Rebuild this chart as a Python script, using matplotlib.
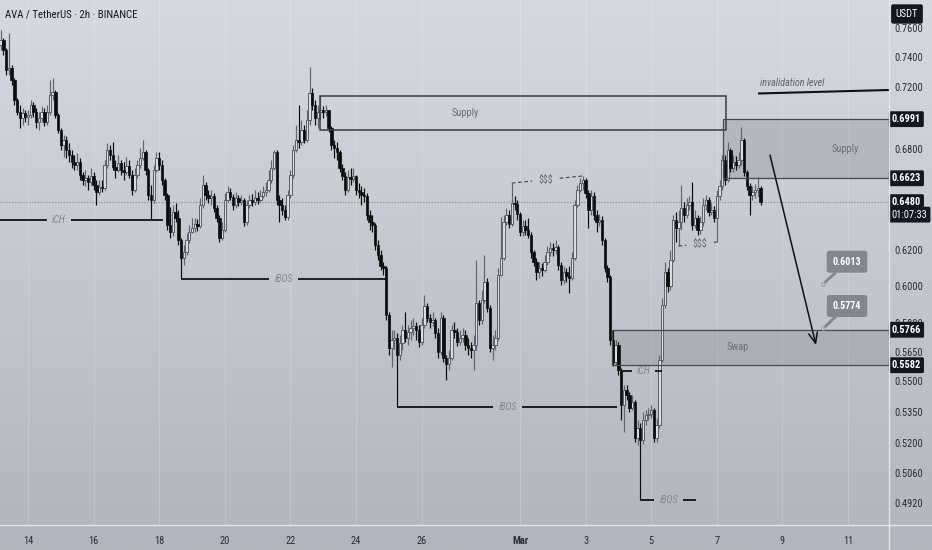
import numpy as np
import matplotlib
matplotlib.use("Agg")
import matplotlib.pyplot as plt
from matplotlib import font_manager
from matplotlib.lines import Line2D
from matplotlib.patches import Rectangle
from matplotlib.ticker import NullLocator, NullFormatter
from matplotlib.colors import LinearSegmentedColormap

# pick a narrow face if one is installed, TradingView text is fairly condensed
installed = {f.name for f in font_manager.fontManager.ttflist}
narrow = [n for n in ('Liberation Sans Narrow', 'Roboto Condensed', 'Open Sans Condensed',
                      'DejaVu Sans Condensed') if n in installed]
condensed_dejavu = any(f.name == 'DejaVu Sans' and str(f.stretch) in ('condensed', 'semi-condensed')
                       for f in font_manager.fontManager.ttflist)
if narrow:
    plt.rcParams['font.family'] = [narrow[0], 'DejaVu Sans']
    fs = 7.5
elif condensed_dejavu:
    plt.rcParams['font.family'] = ['DejaVu Sans']
    plt.rcParams['font.stretch'] = 'condensed'
    fs = 7.0
else:
    plt.rcParams['font.family'] = ['Liberation Sans', 'DejaVu Sans']
    fs = 7.0

# AVA / USDT, 2h candles, first bar Feb 13 04:00 (x axis = days from Feb 14 00:00)
first_bar_day = -20 / 24
bar_hours = 2
first_open = 0.7482

closes = [
    0.7516, 0.7448, 0.7313, 0.7326, 0.7246, 0.7115, 0.7037, 0.6999, 0.7031, 0.7005,
    0.7018, 0.7083, 0.7037, 0.6973, 0.6999, 0.7037, 0.6973, 0.7037, 0.7147, 0.7167,
    0.7018, 0.6922, 0.6828, 0.6859, 0.6796, 0.6765, 0.6723, 0.6704, 0.6723, 0.6643,
    0.6612, 0.6624, 0.6600, 0.6637, 0.6582, 0.6540, 0.6570, 0.6564, 0.6704, 0.6796,
    0.6765, 0.6692, 0.6673, 0.6717, 0.6673, 0.6661, 0.6698, 0.6643, 0.6552, 0.6643,
    0.6704, 0.6746, 0.6784, 0.6673, 0.6522, 0.6493, 0.6673, 0.6746, 0.6704, 0.6612,
    0.6522, 0.6346, 0.6305, 0.6421, 0.6386, 0.6259, 0.6157, 0.6191, 0.6259, 0.6305,
    0.6329, 0.6352, 0.6340, 0.6463, 0.6582, 0.6522, 0.6504, 0.6516, 0.6446, 0.6386,
    0.6271, 0.6317, 0.6493, 0.6540, 0.6510, 0.6463, 0.6504, 0.6481, 0.6493, 0.6363,
    0.6463, 0.6493, 0.6481, 0.6504, 0.6493, 0.6516, 0.6540, 0.6552, 0.6612, 0.6686,
    0.6784, 0.6493, 0.6463, 0.6433, 0.6392, 0.6522, 0.6643, 0.6796, 0.6859, 0.6846,
    0.6922, 0.6859, 0.6986, 0.7160, 0.7083, 0.6999, 0.7037, 0.7050, 0.7037, 0.7050,
    0.6935, 0.6828, 0.6809, 0.6784, 0.6686, 0.6637, 0.6552, 0.6630, 0.6618, 0.6637,
    0.6552, 0.6540, 0.6522, 0.6516, 0.6404, 0.6363, 0.6346, 0.6230, 0.6174, 0.6112,
    0.6101, 0.5844, 0.5670, 0.5712, 0.5723, 0.5634, 0.5696, 0.5765, 0.5723, 0.5754,
    0.5776, 0.5786, 0.5765, 0.5702, 0.5791, 0.5893, 0.5828, 0.5807, 0.5818, 0.5749,
    0.5650, 0.5828, 0.5619, 0.5588, 0.5619, 0.5765, 0.5754, 0.5702, 0.5723, 0.5739,
    0.5686, 0.5670, 0.5660, 0.5686, 0.5909, 0.5818, 0.5925, 0.6023, 0.5882, 0.5670,
    0.5686, 0.5723, 0.6062, 0.6157, 0.6363, 0.6404, 0.6352, 0.6475, 0.6469, 0.6410,
    0.6305, 0.6340, 0.6317, 0.6288, 0.6191, 0.6135, 0.6079, 0.6101, 0.6090, 0.6135,
    0.6191, 0.6213, 0.6202, 0.6219, 0.6118, 0.6034, 0.6079, 0.6057, 0.6046, 0.6157,
    0.6463, 0.6552, 0.6594, 0.6612, 0.6534, 0.6433, 0.6516, 0.6404, 0.6363, 0.6375,
    0.6259, 0.6101, 0.6051, 0.5712, 0.5599, 0.5686, 0.5557, 0.5382, 0.5457, 0.5432,
    0.5368, 0.5397, 0.5223, 0.5271, 0.5213, 0.5309, 0.5334, 0.5338, 0.5358, 0.5223,
    0.5285, 0.5609, 0.5898, 0.6079, 0.6001, 0.6146, 0.6375, 0.6329, 0.6363, 0.6446,
    0.6404, 0.6463, 0.6481, 0.6346, 0.6386, 0.6317, 0.6363, 0.6463, 0.6493, 0.6421,
    0.6433, 0.6386, 0.6516, 0.6576, 0.6735, 0.6612, 0.6796, 0.6686, 0.6723, 0.6704,
    0.6735, 0.6859, 0.6661, 0.6576, 0.6522, 0.6540, 0.6552, 0.6564, 0.6480,
]
highs = [
    0.7585, 0.7530, 0.7461, 0.7564, 0.7346, 0.7260, 0.7128, 0.7083, 0.7063, 0.7050,
    0.7050, 0.7115, 0.7102, 0.7063, 0.7037, 0.7076, 0.7063, 0.7083, 0.7246, 0.7260,
    0.7180, 0.7031, 0.6935, 0.6890, 0.6884, 0.6840, 0.6796, 0.6765, 0.6777, 0.6746,
    0.6661, 0.6673, 0.6643, 0.6686, 0.6661, 0.6612, 0.6612, 0.6612, 0.6735, 0.6840,
    0.6828, 0.6846, 0.6735, 0.6765, 0.6735, 0.6723, 0.6753, 0.6735, 0.6673, 0.6686,
    0.6735, 0.6809, 0.6859, 0.6796, 0.6686, 0.6582, 0.6704, 0.6784, 0.6784, 0.6735,
    0.6624, 0.6534, 0.6452, 0.6463, 0.6475, 0.6433, 0.6271, 0.6230, 0.6300, 0.6346,
    0.6386, 0.6386, 0.6381, 0.6504, 0.6643, 0.6600, 0.6552, 0.6552, 0.6534, 0.6463,
    0.6404, 0.6363, 0.6534, 0.6576, 0.6564, 0.6528, 0.6540, 0.6522, 0.6522, 0.6504,
    0.6493, 0.6522, 0.6528, 0.6552, 0.6540, 0.6552, 0.6576, 0.6600, 0.6673, 0.6735,
    0.6796, 0.6796, 0.6522, 0.6504, 0.6463, 0.6552, 0.6673, 0.6828, 0.6954, 0.7083,
    0.6986, 0.6954, 0.7050, 0.7333, 0.7193, 0.7115, 0.7083, 0.7147, 0.7076, 0.7083,
    0.7050, 0.6948, 0.6859, 0.6846, 0.6796, 0.6710, 0.6661, 0.6673, 0.6686, 0.6686,
    0.6643, 0.6594, 0.6576, 0.6564, 0.6534, 0.6433, 0.6404, 0.6358, 0.6259, 0.6202,
    0.6135, 0.6112, 0.5860, 0.5765, 0.5765, 0.5749, 0.5739, 0.5791, 0.5860, 0.5791,
    0.5818, 0.5828, 0.5807, 0.5791, 0.5828, 0.5952, 0.5909, 0.5850, 0.5860, 0.5828,
    0.5776, 0.5860, 0.5844, 0.5634, 0.5660, 0.5791, 0.5807, 0.5776, 0.5765, 0.5776,
    0.5765, 0.5723, 0.5702, 0.5739, 0.6146, 0.5925, 0.5979, 0.6174, 0.6045, 0.5898,
    0.5739, 0.5765, 0.6101, 0.6392, 0.6404, 0.6446, 0.6433, 0.6594, 0.6516, 0.6493,
    0.6421, 0.6375, 0.6375, 0.6386, 0.6305, 0.6202, 0.6157, 0.6135, 0.6129, 0.6174,
    0.6225, 0.6248, 0.6242, 0.6259, 0.6230, 0.6135, 0.6112, 0.6101, 0.6112, 0.6191,
    0.6493, 0.6582, 0.6624, 0.6637, 0.6624, 0.6552, 0.6552, 0.6540, 0.6433, 0.6410,
    0.6398, 0.6271, 0.6118, 0.6062, 0.5765, 0.5712, 0.5702, 0.5568, 0.5482, 0.5482,
    0.5447, 0.5432, 0.5407, 0.5309, 0.5295, 0.5348, 0.5358, 0.5368, 0.5382, 0.5368,
    0.5319, 0.5634, 0.5936, 0.6135, 0.6101, 0.6202, 0.6404, 0.6421, 0.6433, 0.6582,
    0.6481, 0.6504, 0.6516, 0.6600, 0.6433, 0.6404, 0.6398, 0.6504, 0.6522, 0.6510,
    0.6475, 0.6458, 0.6552, 0.6612, 0.6765, 0.6765, 0.6846, 0.6809, 0.6765, 0.6759,
    0.6784, 0.6941, 0.6871, 0.6673, 0.6594, 0.6576, 0.6588, 0.6630, 0.6576,
]
lows = [
    0.7448, 0.7414, 0.7280, 0.7280, 0.7213, 0.7083, 0.7018, 0.6935, 0.6954, 0.6973,
    0.6954, 0.6999, 0.7005, 0.6935, 0.6922, 0.6973, 0.6948, 0.6954, 0.7018, 0.7115,
    0.6999, 0.6903, 0.6796, 0.6753, 0.6746, 0.6723, 0.6686, 0.6673, 0.6673, 0.6612,
    0.6582, 0.6576, 0.6552, 0.6582, 0.6552, 0.6463, 0.6522, 0.6540, 0.6552, 0.6686,
    0.6735, 0.6673, 0.6624, 0.6661, 0.6643, 0.6612, 0.6643, 0.6624, 0.6522, 0.6540,
    0.6624, 0.6686, 0.6735, 0.6643, 0.6493, 0.6375, 0.6475, 0.6661, 0.6673, 0.6582,
    0.6493, 0.6317, 0.6271, 0.6282, 0.6363, 0.6230, 0.6046, 0.6118, 0.6174, 0.6242,
    0.6300, 0.6305, 0.6311, 0.6329, 0.6446, 0.6493, 0.6475, 0.6463, 0.6421, 0.6363,
    0.6248, 0.6259, 0.6305, 0.6481, 0.6493, 0.6433, 0.6446, 0.6458, 0.6463, 0.6340,
    0.6346, 0.6446, 0.6458, 0.6463, 0.6469, 0.6481, 0.6504, 0.6516, 0.6540, 0.6594,
    0.6673, 0.6463, 0.6363, 0.6404, 0.6375, 0.6375, 0.6504, 0.6624, 0.6784, 0.6809,
    0.6828, 0.6840, 0.6846, 0.6954, 0.7050, 0.6954, 0.6935, 0.6986, 0.6999, 0.7011,
    0.6909, 0.6796, 0.6746, 0.6735, 0.6661, 0.6612, 0.6522, 0.6540, 0.6582, 0.6600,
    0.6522, 0.6504, 0.6463, 0.6481, 0.6375, 0.6317, 0.6305, 0.6202, 0.6146, 0.6090,
    0.6062, 0.5818, 0.5634, 0.5573, 0.5660, 0.5373, 0.5609, 0.5660, 0.5702, 0.5686,
    0.5712, 0.5739, 0.5712, 0.5676, 0.5686, 0.5776, 0.5807, 0.5776, 0.5786, 0.5723,
    0.5619, 0.5634, 0.5599, 0.5507, 0.5557, 0.5609, 0.5723, 0.5681, 0.5686, 0.5702,
    0.5660, 0.5634, 0.5619, 0.5557, 0.5660, 0.5791, 0.5797, 0.5909, 0.5860, 0.5650,
    0.5609, 0.5660, 0.5712, 0.6057, 0.6146, 0.6346, 0.6329, 0.6340, 0.6433, 0.6375,
    0.6282, 0.6282, 0.6288, 0.6271, 0.6157, 0.6112, 0.6034, 0.6046, 0.6057, 0.6079,
    0.6118, 0.6168, 0.6168, 0.6179, 0.6090, 0.6007, 0.6012, 0.6023, 0.5963, 0.6034,
    0.6146, 0.6452, 0.6540, 0.6552, 0.6504, 0.6329, 0.6404, 0.6375, 0.6305, 0.6340,
    0.6230, 0.6079, 0.6023, 0.5686, 0.5578, 0.5583, 0.5532, 0.5309, 0.5251, 0.5407,
    0.5348, 0.5358, 0.5203, 0.5189, 0.4934, 0.5194, 0.5285, 0.5309, 0.5319, 0.5203,
    0.5203, 0.5271, 0.5599, 0.5882, 0.5968, 0.5979, 0.6135, 0.6248, 0.6225, 0.6317,
    0.6363, 0.6386, 0.6433, 0.6317, 0.6329, 0.6288, 0.6294, 0.6340, 0.6433, 0.6398,
    0.6404, 0.6363, 0.6248, 0.6493, 0.6552, 0.6582, 0.6600, 0.6661, 0.6661, 0.6673,
    0.6686, 0.6704, 0.6637, 0.6552, 0.6404, 0.6493, 0.6504, 0.6510, 0.6463,
]

# axis ticks
x_tick_days = [0, 2, 4, 6, 8, 10, 12, 15, 17, 19, 21, 23, 25]
x_tick_labels = ['14', '16', '18', '20', '22', '24', '26', 'Mar', '3', '5', '7', '9', '11']
y_ticks = [0.7600, 0.7400, 0.7200, 0.6800, 0.6200, 0.6000, 0.5800, 0.5650,
           0.5500, 0.5350, 0.5200, 0.5060, 0.4920]
tag_prices = [0.6991, 0.6623, 0.5766, 0.5582]
last_price = 0.6480
countdown = '01:07:33'

# structure levels (iCH / iBOS)
level_names = ['iCH', 'iBOS', 'iBOS', 'iCH', 'iBOS']
level_prices = [0.6375, 0.6040, 0.5373, 0.5552, 0.4934]
level_start = [-0.854, 4.665, 11.25, 18.14, 18.66]
level_end = [4.116, 10.884, 17.957, 19.33, 20.37]
level_label_day = [0.945, 7.79, 14.63, 18.77, 19.53]

# liquidity ($$$) lines
liq_day0 = [14.75, 19.833]
liq_price0 = [0.6594, 0.6225]
liq_day1 = [16.917, 21.0]
liq_price1 = [0.6637, 0.6248]
liq_label_day = [15.79, 20.49]

# zones
zone_names = ['Supply', 'Supply', 'Swap']
zone_top = [0.7141, 0.6991, 0.5766]
zone_bottom = [0.6922, 0.6623, 0.5582]
zone_start = [8.902, 21.19, 17.805]
zone_end = [21.28, 26.25, 26.25]
zone_label_day = [13.32, 24.91, 21.65]

invalidation_days = [22.256, 26.25]
invalidation_prices = [0.7157, 0.7180]
arrow_from = (22.622, 0.6765)
arrow_to = (24.024, 0.5686)
target_prices = [0.6013, 0.5774]
target_day = 24.25

# ---------------------------------------------------------------
n = len(closes)
t = first_bar_day + np.arange(n) * bar_hours / 24
c = np.array(closes)
h = np.array(highs)
l = np.array(lows)
o = np.concatenate([[first_open], c[:-1]])
up = c >= o

fig = plt.figure(figsize=(9.32, 5.5), dpi=100)

# background gradient
bg = fig.add_axes([0, 0, 1, 1], zorder=-10)
grad = np.linspace(0, 1, 256).reshape(-1, 1)
bg.imshow(grad, aspect='auto', origin='upper',
          cmap=LinearSegmentedColormap.from_list('bg', ['#d6d9df', '#b2b5bd']))
bg.axis('off')

ax = fig.add_axes([0, 25 / 550, 889 / 932, 525 / 550])
ax.set_facecolor('none')
ax.set_yscale('log')
ax.set_xlim(-0.854, 26.25)
ax.set_ylim(0.4823, 0.7796)
for s in ax.spines.values():
    s.set_visible(False)

# candles
ax.vlines(t[up], l[up], h[up], color='#62656c', lw=0.85, zorder=2)
ax.vlines(t[~up], l[~up], h[~up], color='#0c0c0c', lw=0.85, zorder=2)
body_w = 0.074
ax.bar(t[up], np.abs(c - o)[up], bottom=np.minimum(o, c)[up], width=body_w,
       color='#dadce1', edgecolor='#5c5f66', linewidth=0.7, zorder=3)
ax.bar(t[~up], np.abs(c - o)[~up], bottom=np.minimum(o, c)[~up], width=body_w,
       color='#0c0c0c', edgecolor='#0c0c0c', linewidth=0.5, zorder=3)

# current price line
ax.axhline(last_price, color='#8c8f96', lw=0.9, ls=(0, (1, 1.3)), zorder=1)

# faint vertical grid
ax.set_xticks(x_tick_days, x_tick_labels)
ax.grid(axis='x', color='#ffffff', alpha=0.18, lw=0.8)
ax.set_axisbelow(True)

# zones
for i, name in enumerate(zone_names):
    x0, x1 = zone_start[i], zone_end[i]
    lo, hi = zone_bottom[i], zone_top[i]
    if i == 0:
        ax.add_patch(Rectangle((x0, lo), x1 - x0, hi - lo, fill=False,
                               edgecolor='#3a3c41', lw=1.1, zorder=4))
    else:
        ax.add_patch(Rectangle((x0, lo), x1 - x0, hi - lo, facecolor='#8d9098',
                               alpha=0.38, edgecolor='none', zorder=1.5))
        ax.add_patch(Rectangle((x0, lo), x1 - x0, hi - lo, fill=False,
                               edgecolor='#45484e', lw=0.9, zorder=4, clip_on=False))
    ax.text(zone_label_day[i], np.sqrt(lo * hi), name, color='#6c6f76',
            fontsize=fs, ha='center', va='center', zorder=5)

# structure lines with label gaps
for i, name in enumerate(level_names):
    p = level_prices[i]
    half = 0.1 + 0.085 * len(name)
    mid = level_label_day[i]
    ax.plot([level_start[i], mid - half], [p, p], color='#111111', lw=1.3,
            solid_capstyle='butt', zorder=4)
    ax.plot([mid + half, level_end[i]], [p, p], color='#111111', lw=1.3,
            solid_capstyle='butt', zorder=4)
    ax.text(mid, p, name, color='#83868d', fontsize=fs - 0.3, style='italic',
            ha='center', va='center', zorder=5)

# liquidity dashed lines
for i in range(len(liq_day0)):
    d0, d1 = liq_day0[i], liq_day1[i]
    p0, p1 = liq_price0[i], liq_price1[i]
    mid = liq_label_day[i]
    half = 0.42

    def at(d):
        f = (d - d0) / (d1 - d0)
        return p0 * (p1 / p0) ** f

    kw = dict(color='#4c4f56', lw=0.9, ls=(0, (3, 2)), zorder=4)
    ax.plot([d0, mid - half], [p0, at(mid - half)], **kw)
    ax.plot([mid + half, d1], [at(mid + half), p1], **kw)
    ax.text(mid, at(mid), '$$$', color='#6a6d74', fontsize=fs - 0.3,
            ha='center', va='center', zorder=5)

# invalidation level
ax.plot(invalidation_days, invalidation_prices, color='#111111', lw=1.5,
        solid_capstyle='butt', zorder=4, clip_on=False)
ax.text(invalidation_days[0] + 0.07, 0.7228, 'invalidation level', color='#5f6269',
        fontsize=fs - 0.3, style='italic', ha='left', va='center', zorder=5)

# projection arrow
ax.annotate('', xy=arrow_to, xytext=arrow_from,
            arrowprops=dict(arrowstyle='->,head_length=0.75,head_width=0.32',
                            color='#111111', lw=1.1, shrinkA=0, shrinkB=0), zorder=5)

# target callouts
for p in target_prices:
    ax.plot(target_day, p, 'o', ms=2.6, mfc='none', mec='#9a9da3', mew=0.7, zorder=5)
    ax.annotate(f'{p:.4f}', xy=(target_day, p), xytext=(17, 16),
                textcoords='offset points', ha='center', va='center',
                color='white', fontsize=fs - 0.3, fontweight='bold', zorder=6,
                bbox=dict(boxstyle='round,pad=0.6,rounding_size=0.25',
                          fc='#83868d', ec='none'),
                arrowprops=dict(arrowstyle='-', color='#83868d', lw=2.0,
                                shrinkA=0, shrinkB=2))

# axes ticks
ax.yaxis.tick_right()
ax.set_yticks(y_ticks, [f'{v:.4f}' for v in y_ticks])
ax.yaxis.set_minor_locator(NullLocator())
ax.yaxis.set_minor_formatter(NullFormatter())
ax.tick_params(axis='y', length=0, pad=4, labelsize=fs, labelcolor='#2a2d35')
ax.tick_params(axis='x', length=0, pad=8, labelsize=fs, labelcolor='#2a2d35')
ax.get_xticklabels()[x_tick_labels.index('Mar')].set_fontweight('bold')

# price tags on the right scale
tag_box = dict(boxstyle='round,pad=0.28,rounding_size=0.15', fc='#131722', ec='none')
for p in tag_prices:
    ax.annotate(f'{p:.4f}', xy=(1, p), xycoords=('axes fraction', 'data'),
                xytext=(2.0, 0), textcoords='offset points', ha='left', va='center',
                color='white', fontsize=fs, fontweight='bold', bbox=tag_box,
                zorder=7, annotation_clip=False)
ax.annotate(countdown, xy=(1, last_price), xycoords=('axes fraction', 'data'),
            xytext=(2.0, -9), textcoords='offset points', ha='left', va='center',
            color='white', fontsize=fs, bbox=tag_box, zorder=7, annotation_clip=False)
ax.annotate(f'{last_price:.4f}', xy=(1, last_price), xycoords=('axes fraction', 'data'),
            xytext=(2.0, 0), textcoords='offset points', ha='left', va='center',
            color='white', fontsize=fs, fontweight='bold', bbox=tag_box,
            zorder=8, annotation_clip=False)

fig.text(907 / 932, 1 - 14 / 550, 'USDT', ha='center', va='center', color='white',
         fontsize=fs, bbox=dict(boxstyle='round,pad=0.45,rounding_size=0.2',
                                fc='#131722', ec='none'))
fig.text(5 / 932, 1 - 15 / 550, 'AVA / TetherUS · 2h · BINANCE', ha='left',
         va='center', color='#131722', fontsize=fs + 0.3)

# separators between chart and scales
fig.add_artist(Line2D([0, 1], [25 / 550, 25 / 550], transform=fig.transFigure,
                      color='#e2e4e8', lw=1.0))
fig.add_artist(Line2D([889 / 932, 889 / 932], [0, 1], transform=fig.transFigure,
                      color='#e2e4e8', lw=1.0))

fig.savefig('out.png', dpi=100)
